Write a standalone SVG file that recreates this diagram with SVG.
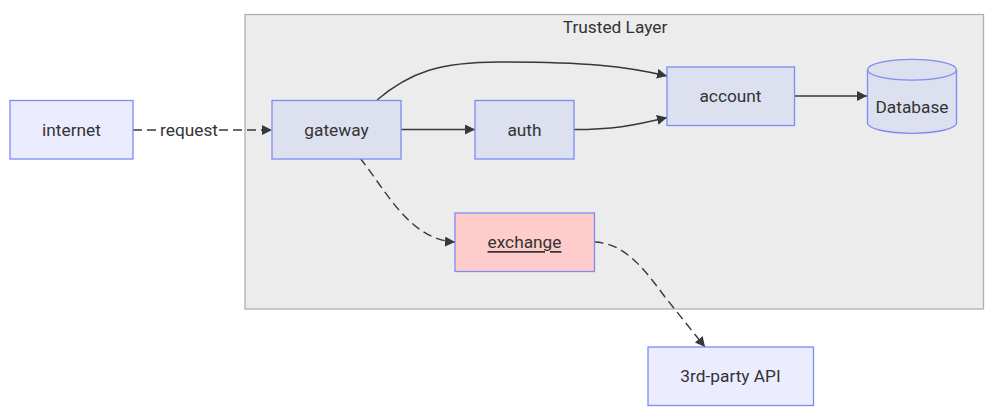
<svg xmlns="http://www.w3.org/2000/svg" width="1001" height="418" viewBox="0 0 1001 418">
<defs>
<style>
text{font-family:Roboto,"Liberation Sans",Arial,sans-serif;font-size:17.3px;fill:#333;text-anchor:middle;dominant-baseline:central}
.node{stroke:#7b8cf4;stroke-width:1.3}
.out{fill:#ececff}
.in{fill:#dde0ef}
.edge{fill:none;stroke:#333a3f;stroke-width:1.4}
.dash{stroke-dasharray:9 5}
</style>
<marker id="arr" viewBox="0 0 10 10" refX="10" refY="5" markerWidth="10" markerHeight="10" markerUnits="userSpaceOnUse" orient="auto">
<path d="M0,0 L10,5 L0,10 z" fill="#333a3f"/>
</marker>
</defs>
<rect width="1001" height="418" fill="#ffffff"/>
<g id="cluster-trusted">
<rect x="245" y="14.5" width="738.5" height="294.5" fill="#ececec" stroke="#b0b0b0" stroke-width="1.3"/>
<text x="615" y="27">Trusted Layer</text>
</g>
<g id="edges">
<path class="edge dash" d="M133,130 L159,130"/>
<path class="edge dash" d="M219,130 L272,130" marker-end="url(#arr)"/>
<rect x="159" y="120" width="60" height="20" fill="#ffffff" opacity="0.8"/>
<text x="189" y="130">request</text>
<path class="edge" d="M377,100 C410,72 440,62 500,62 C585,62 625,66 667,76" marker-end="url(#arr)"/>
<path class="edge" d="M401,129.5 L475,129.5" marker-end="url(#arr)"/>
<path class="edge" d="M574,129.5 C612,129.5 632,126 667,117.5" marker-end="url(#arr)"/>
<path class="edge" d="M794.5,96 L867,96" marker-end="url(#arr)"/>
<path class="edge dash" d="M360,158 C387,192 410,240 455,242" marker-end="url(#arr)"/>
<path class="edge dash" d="M594.5,242 C625,243 645,270 665,297 L705,347" marker-end="url(#arr)"/>
</g>
<g id="internet">
<rect class="node out" x="10" y="100.5" width="123" height="58.5"/>
<text x="71.5" y="130">internet</text>
</g>
<g id="gateway">
<rect class="node in" x="272" y="100.5" width="129" height="58.5"/>
<text x="336.5" y="130">gateway</text>
</g>
<g id="auth">
<rect class="node in" x="475" y="100.5" width="99" height="58.5"/>
<text x="524.5" y="130">auth</text>
</g>
<g id="account">
<rect class="node in" x="667" y="67" width="127.5" height="58.5"/>
<text x="730.5" y="96">account</text>
</g>
<g id="database">
<path class="node in" d="M867.5,69.7 A44.5,10.4 0 0 1 956.5,69.7 L956.5,122.9 A44.5,10.4 0 0 1 867.5,122.9 Z"/>
<path d="M867.5,69.7 A44.5,10.4 0 0 0 956.5,69.7" fill="none" stroke="#7b8cf4" stroke-width="1.3"/>
<text x="912" y="107">Database</text>
</g>
<g id="exchange">
<rect class="node" fill="#ffcccc" x="455" y="213" width="139.5" height="58.5"/>
<text x="524.5" y="242" text-decoration="underline">exchange</text>
</g>
<g id="third-party-api">
<rect class="node out" x="648" y="347" width="165.5" height="58.5"/>
<text x="730.5" y="376">3rd-party API</text>
</g>
</svg>
